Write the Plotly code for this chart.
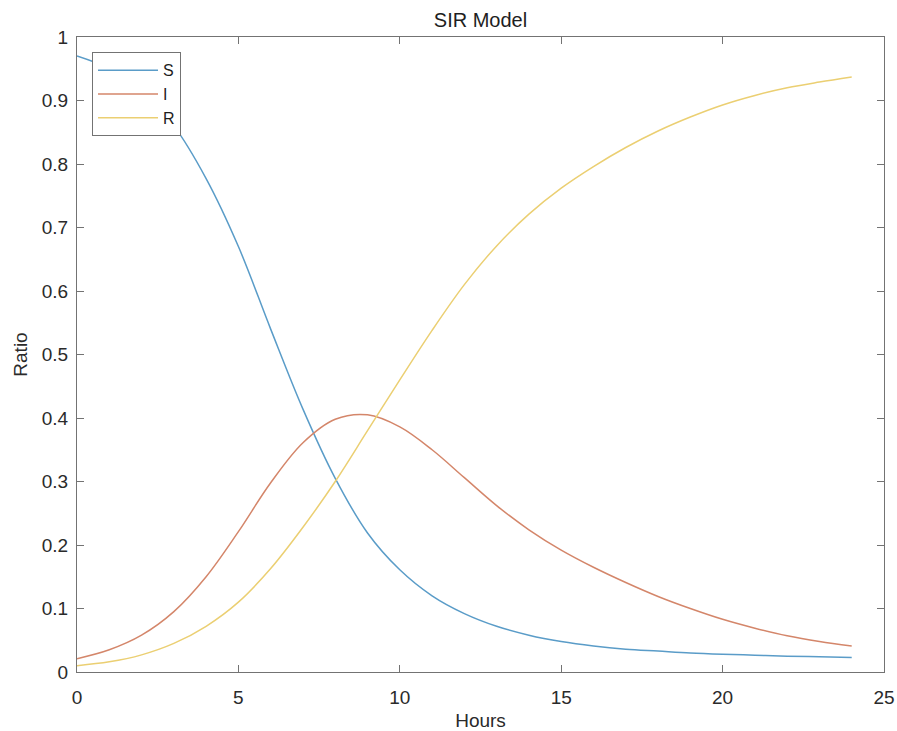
import plotly.graph_objects as go

hours = list(range(0, 25))
S = [0.970, 0.950, 0.915, 0.860, 0.777, 0.670, 0.540, 0.414, 0.305, 0.219,
     0.161, 0.120, 0.092, 0.072, 0.058, 0.048, 0.041, 0.036, 0.033, 0.030,
     0.028, 0.0265, 0.025, 0.024, 0.023]
I = [0.021, 0.035, 0.058, 0.095, 0.150, 0.221, 0.298, 0.361, 0.398, 0.405,
     0.386, 0.350, 0.306, 0.262, 0.224, 0.192, 0.165, 0.141, 0.119, 0.100,
     0.083, 0.069, 0.057, 0.048, 0.041]
R = [0.010, 0.016, 0.027, 0.045, 0.072, 0.110, 0.163, 0.228, 0.300, 0.380,
     0.460, 0.538, 0.610, 0.671, 0.721, 0.762, 0.796, 0.826, 0.852, 0.874,
     0.893, 0.908, 0.920, 0.929, 0.937]

series = [("S", S, "#5a9cc8"), ("I", I, "#d4866a"), ("R", R, "#ebcf72")]

fig = go.Figure()
for name, vals, col in series:
    fig.add_trace(go.Scatter(x=hours, y=vals, name=name, mode="lines",
                             line=dict(color=col, width=1.5, shape="spline", smoothing=1.0)))

font_family = "Liberation Sans, Arial, sans-serif"
axis_common = dict(showline=True, linecolor="#737373", linewidth=1.2, mirror="ticks",
                   ticks="inside", ticklen=7, tickcolor="#737373", showgrid=False,
                   zeroline=False, automargin=False,
                   tickfont=dict(size=19, color="#2a2a2a", family=font_family))

fig.update_layout(
    width=897, height=731,
    margin=dict(l=77, r=13, t=37, b=59),
    paper_bgcolor="white", plot_bgcolor="white",
    font=dict(family=font_family, color="#2a2a2a"),
    title=dict(text="SIR Model", x=0.5, xref="paper", y=1 - 20 / 731, yref="container",
               yanchor="middle", xanchor="center", automargin=False,
               font=dict(size=20, color="#1e1e1e")),
    xaxis=dict(range=[0, 25], tick0=0, dtick=5, ticklabelstandoff=8,
               title=dict(text="Hours", font=dict(size=19), standoff=6), **axis_common),
    yaxis=dict(range=[0, 1], tick0=0, dtick=0.1, ticklabelstandoff=4,
               title=dict(text="Ratio", font=dict(size=19), standoff=9), **axis_common),
    legend=dict(x=0.0186, y=0.976, xanchor="left", yanchor="top",
                bordercolor="#737373", borderwidth=1, bgcolor="white",
                itemwidth=60, font=dict(size=16, color="#1e1e1e"), tracegroupgap=0),
    showlegend=True,
)

fig.write_html("out.html", config={"displayModeBar": False},
               post_script="document.body.style.margin='0';document.body.style.overflow='hidden';")
